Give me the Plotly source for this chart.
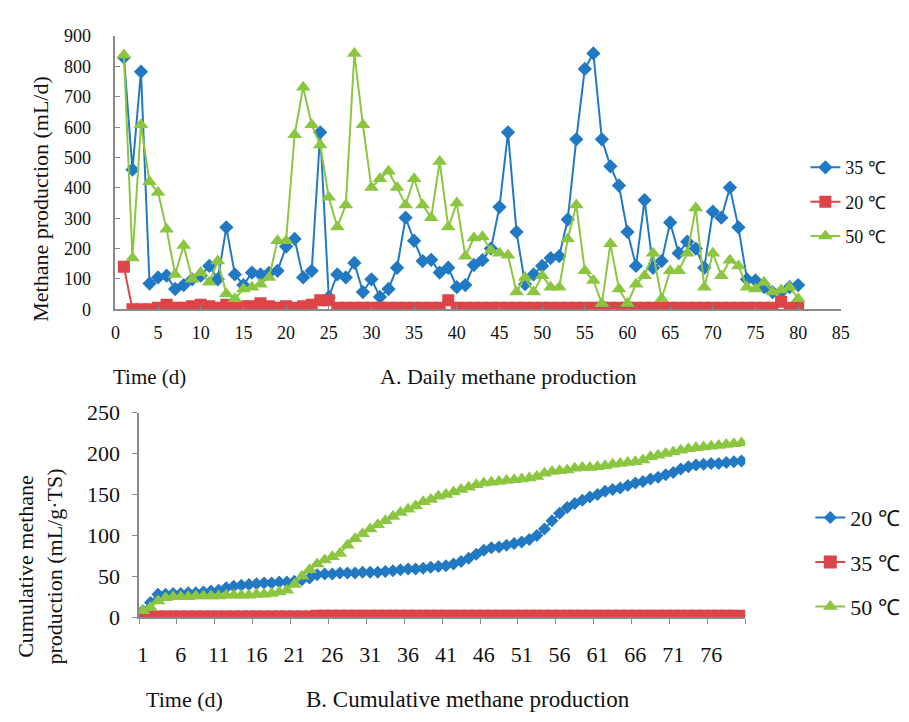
import plotly.graph_objects as go

W, H = 909, 722

# ---------------- data ----------------
days = list(range(1, 81))

# A. Daily methane production (mL/d)
daily_35 = [830, 460, 783, 85, 105, 111, 67, 80, 99, 111,
            143, 99, 270, 115, 80, 121, 115, 120, 127, 207,
            232, 105, 127, 583, 40, 115, 105, 153, 57, 99,
            41, 67, 137, 302, 226, 159, 163, 121, 137, 73,
            80, 146, 162, 200, 337, 583, 255, 83, 115, 143,
            169, 175, 296, 560, 792, 843, 560, 471, 408, 255,
            143, 360, 137, 159, 286, 185, 223, 200, 137, 322,
            302, 401, 270, 99, 95, 73, 57, 57, 73, 80]
daily_20 = [140, 0, 0, 0, 5, 15, 5, 5, 10, 15,
            10, 5, 15, 5, 10, 10, 20, 10, 5, 10,
            5, 10, 15, 30, 30, 5, 5, 5, 5, 5,
            5, 5, 5, 5, 5, 5, 5, 5, 30, 5,
            5, 5, 5, 5, 5, 5, 5, 5, 5, 5,
            5, 5, 5, 5, 5, 5, 5, 5, 5, 5,
            5, 5, 5, 5, 5, 5, 5, 5, 5, 5,
            5, 5, 5, 5, 5, 5, 5, 25, 5, 10]
daily_50 = [838, 169, 608, 420, 385, 264, 115, 210, 99, 121,
            89, 159, 51, 35, 67, 73, 83, 105, 226, 226,
            575, 732, 608, 541, 369, 271, 344, 843, 608, 401,
            430, 455, 401, 344, 430, 344, 302, 487, 271, 350,
            175, 235, 239, 194, 185, 178, 57, 105, 57, 111,
            73, 73, 232, 344, 127, 95, 19, 216, 67, 19,
            83, 111, 185, 35, 127, 127, 185, 334, 73, 185,
            111, 162, 143, 73, 67, 89, 57, 64, 73, 35]

# B. Cumulative methane production (mL/g TS)
cum_20 = [8, 18, 28, 28, 29, 29, 30, 30, 31, 32,
          33, 36, 38, 39, 40, 41, 42, 42, 43, 43,
          44, 46, 48, 52, 53, 53, 54, 54, 54, 55,
          55, 55, 56, 57, 58, 59, 59, 60, 61, 62,
          63, 65, 68, 72, 77, 82, 85, 86, 88, 90,
          92, 95, 100, 108, 118, 127, 134, 139, 143, 147,
          150, 154, 156, 158, 161, 164, 166, 169, 171, 174,
          177, 181, 184, 186, 187, 188, 188, 189, 190, 191]
cum_35 = [0.3] * 23 + [1.2] * 57
cum_50 = [8, 12, 20, 24, 25, 25, 25, 26, 26, 26,
          26, 27, 27, 27, 27, 28, 28, 29, 31, 33,
          40, 50, 58, 65, 70, 74, 78, 88, 96, 102,
          108, 113, 118, 123, 128, 132, 136, 141, 144, 148,
          150, 153, 156, 159, 162, 164, 165, 166, 167, 168,
          169, 170, 172, 176, 178, 179, 180, 182, 183, 183,
          184, 185, 187, 188, 189, 190, 192, 196, 198, 200,
          202, 204, 206, 207, 208, 209, 210, 211, 212, 213]

top_names = ["35 ℃", "20 ℃", "50 ℃"]
bottom_names = ["20 ℃", "35 ℃", "50 ℃"]
x_ticks_top = list(range(0, 90, 5))
y_ticks_top = list(range(0, 1000, 100))
x_ticks_bottom = list(range(1, 80, 5))
x_bounds_bottom = [b + 0.5 for b in range(0, 81, 5)]
y_ticks_bottom = list(range(0, 300, 50))

# ---------------- style ----------------
BLUE = "#2279C3"
RED = "#DD4448"
GREEN = "#8CC640"
AXIS = "#8A8A8A"
TXT = "#111111"
FONT = "Liberation Serif, Times New Roman, serif"


def fx(p):
    return p / W


def fy(p):
    return 1 - p / H


fig = go.Figure()

top_series = [(daily_35, BLUE, "diamond", 11), (daily_20, RED, "square", 12),
              (daily_50, GREEN, "triangle-up", 13)]
for i, (vals, col, sym, sz) in enumerate(top_series):
    fig.add_trace(go.Scatter(
        x=days, y=vals, name=top_names[i], mode="lines+markers",
        line=dict(color=col, width=2),
        marker=dict(symbol=sym, size=sz, color=col, line=dict(width=0)),
        xaxis="x", yaxis="y", legend="legend", legendgroup="t%d" % i))

bottom_series = [(cum_20, BLUE, "diamond", 10), (cum_35, RED, "square", 13),
                 (cum_50, GREEN, "triangle-up", 13)]
for i, (vals, col, sym, sz) in enumerate(bottom_series):
    fig.add_trace(go.Scatter(
        x=days, y=vals, name=bottom_names[i], mode="lines+markers",
        line=dict(color=col, width=2),
        marker=dict(symbol=sym, size=sz, color=col, line=dict(width=0)),
        xaxis="x2", yaxis="y2", legend="legend2", legendgroup="b%d" % i))


def axis_style(size):
    return dict(showgrid=False, zeroline=False, showline=True,
                linecolor=AXIS, linewidth=1.5, tickcolor=AXIS,
                tickfont=dict(family=FONT, color=TXT, size=size))


fig.update_layout(
    width=W, height=H, autosize=False,
    margin=dict(l=0, r=0, t=0, b=0),
    paper_bgcolor="white", plot_bgcolor="white",
    font=dict(family=FONT, color=TXT),
    xaxis=dict(domain=[fx(113), fx(849)], range=[0, 85], anchor="y",
               tickmode="array", tickvals=x_ticks_top, ticks="inside",
               ticklen=5, ticklabelstandoff=6, **axis_style(18)),
    yaxis=dict(domain=[fy(308), fy(25)], range=[0, 900], anchor="x",
               tickmode="array", tickvals=y_ticks_top, ticks="inside",
               ticklen=5, ticklabelstandoff=19, **axis_style(18)),
    xaxis2=dict(domain=[fx(137), fx(752)], range=[0.5, 80.5], anchor="y2",
                tickmode="array", tickvals=x_ticks_bottom, ticks="",
                minor=dict(tickvals=x_bounds_bottom, ticks="outside", ticklen=5, tickcolor=AXIS),
                ticklabelstandoff=17, **axis_style(22)),
    yaxis2=dict(domain=[fy(627), fy(415)], range=[0, 250], anchor="x2",
                tickmode="array", tickvals=y_ticks_bottom, ticks="outside",
                ticklen=5, ticklabelstandoff=8, **axis_style(22)),
    legend=dict(x=fx(813), y=fy(142), xanchor="left", yanchor="top",
                font=dict(family=FONT, size=18, color=TXT),
                bgcolor="rgba(0,0,0,0)", traceorder="grouped", tracegroupgap=8),
    legend2=dict(x=fx(818), y=fy(502), xanchor="left", yanchor="top",
                 font=dict(family=FONT, size=22, color=TXT),
                 bgcolor="rgba(0,0,0,0)", traceorder="grouped", tracegroupgap=13),
    showlegend=True,
)

ann = [
    dict(text="Methane production (mL/d)", x=fx(37), y=fy(193), textangle=-90, size=22),
    dict(text="Time (d)", x=fx(148), y=fy(378), textangle=0, size=21),
    dict(text="A. Daily methane production", x=fx(512), y=fy(378), textangle=0, size=22),
    dict(text="Cumulative methane<br>production (mL/g·TS)", x=fx(37), y=fy(574), textangle=-90, size=22),
    dict(text="Time (d)", x=fx(183), y=fy(712), textangle=0, size=22),
    dict(text="B. Cumulative methane production", x=fx(471), y=fy(712), textangle=0, size=23),
]
for a in ann:
    fig.add_annotation(text=a["text"], x=a["x"], y=a["y"], xref="paper", yref="paper",
                       showarrow=False, textangle=a["textangle"], xanchor="center", yanchor="middle",
                       font=dict(family=FONT, size=a["size"], color=TXT))

fig.write_html("out.html")
